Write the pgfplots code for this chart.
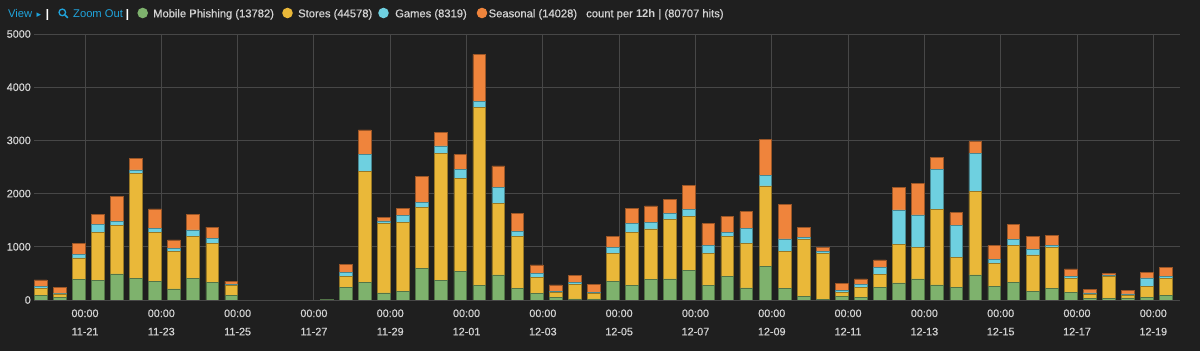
\documentclass[border=0pt]{standalone}
\usepackage{pgfplots}
\usepackage{pgfplotstable}
\pgfplotsset{compat=1.18}
\usepackage{fontspec}
\setmainfont{Liberation Sans}
\newfontfamily\heavy{Liberation Sans}[FakeBold=0.6]
\newfontfamily\dejavu{DejaVu Sans}
\definecolor{bg}{HTML}{1F1F1F}
\definecolor{gridc}{HTML}{474747}
\definecolor{tickc}{HTML}{D2D2D2}
\definecolor{cgreen}{HTML}{7EB26D}
\definecolor{cyellow}{HTML}{EAB839}
\definecolor{ccyan}{HTML}{6ED0E0}
\definecolor{corange}{HTML}{EF843C}
\definecolor{kblue}{HTML}{1FA4DC}

\pgfplotstableread{
x g s c o
-1.1667 88 125 50 113
-0.6667 56 57 12 113
-0.1667 388 402 62 219
0.3333 363 915 144 182
0.8333 489 908 76 476
1.3333 407 1974 63 213
1.8333 351 915 75 370
2.3333 207 702 68 151
2.8333 401 802 113 288
3.3333 332 727 94 219
3.8333 81 188 25 63
6.3333 5 5 0 8
6.8333 238 213 75 138
7.3333 338 2081 325 452
7.8333 132 1315 38 75
8.3333 169 1291 125 132
8.8333 595 1141 94 495
9.3333 370 2381 144 251
9.8333 539 1742 175 276
10.3333 269 3353 106 890
10.8333 470 1353 301 395
11.3333 213 984 94 332
11.8333 119 307 75 157
12.3333 44 94 25 119
12.8333 19 269 44 125
13.3333 19 106 13 150
13.8333 357 520 107 213
14.3333 269 997 169 288
14.8333 382 953 125 307
15.3333 395 1115 119 263
15.8333 558 1009 131 451
16.3333 276 601 151 407
16.8333 445 752 75 295
17.3333 226 839 282 314
17.8333 633 1510 201 670
18.3333 213 702 232 651
18.8333 75 1059 38 194
19.3333 13 864 32 81
19.8333 63 75 37 138
20.3333 56 188 44 107
20.8333 238 244 138 132
21.3333 320 720 652 426
21.8333 395 601 602 601
22.3333 282 1416 752 232
22.8333 238 558 608 238
23.3333 470 1573 708 225
23.8333 251 438 75 257
24.3333 338 690 106 282
24.8333 169 677 106 239
25.3333 219 777 32 181
25.8333 144 257 50 132
26.3333 31 76 25 62
26.8333 31 408 25 37
27.3333 38 43 32 62
27.8333 56 195 163 106
28.3333 88 319 44 157
}\data

\begin{document}
\begin{tikzpicture}
\fill[bg] (0,0) rectangle (1200pt,351pt);
\begin{axis}[
  at={(34pt,51pt)}, anchor=south west,
  scale only axis, width=1146pt, height=266pt,
  xmin=-1.337, xmax=28.70, ymin=0, ymax=5000,
  ybar stacked, bar width=12.7pt,
  axis line style={draw=none},
  major tick length=0pt,
  grid=major,
  major grid style={draw=gridc, line width=0.9pt},
  xtick={0,2,...,28},
  xticklabels={{00:00\\11-21},{00:00\\11-23},{00:00\\11-25},{00:00\\11-27},{00:00\\11-29},{00:00\\12-01},{00:00\\12-03},{00:00\\12-05},{00:00\\12-07},{00:00\\12-09},{00:00\\12-11},{00:00\\12-13},{00:00\\12-15},{00:00\\12-17},{00:00\\12-19}},
  xticklabel style={align=center, anchor=north, inner sep=0pt, yshift=-9.3pt, font=\heavy\fontsize{10.8}{18.3}\selectfont, text=tickc},
  ytick={0,1000,...,5000},
  yticklabel style={anchor=east, inner sep=0pt, xshift=-3pt, font=\heavy\fontsize{10.8}{13}\selectfont, text=tickc},
  /pgf/number format/assume math mode=true,
  /pgf/number format/1000 sep={},
  scaled y ticks=false,
]
\addplot[fill=cgreen, draw=cgreen!65!black, line width=0.6pt] table[x=x,y=g] {\data};
\addplot[fill=cyellow, draw=cyellow!65!black, line width=0.6pt] table[x=x,y=s] {\data};
\addplot[fill=ccyan, draw=ccyan!65!black, line width=0.6pt] table[x=x,y=c] {\data};
\addplot[fill=corange, draw=corange!65!black, line width=0.6pt] table[x=x,y=o] {\data};
\end{axis}
% header / legend
\begin{scope}[every node/.style={anchor=base west, inner sep=0pt, font=\heavy\fontsize{11.2}{13}\selectfont, text=tickc}]
\node[text=kblue, font=\fontsize{11.2}{13}\selectfont] at (8pt,333.7pt) {View};
\node[text=kblue] at (36.5pt,333.7pt) {\dejavu\fontsize{9}{11}\selectfont ▸};
\node[text=white] at (45.5pt,333.7pt) {\textbf{|}};
\draw[kblue, line width=1.3pt] (62.3pt,338.6pt) circle (3.3pt);
\draw[kblue, line width=1.6pt] (64.8pt,336.1pt) -- (67.8pt,333.1pt);
\node[text=kblue, font=\fontsize{11.2}{13}\selectfont] at (73pt,333.7pt) {Zoom Out};
\node[text=white] at (125.5pt,333.7pt) {\textbf{|}};
\fill[cgreen] (142.7pt,338pt) circle (5.3pt);
\node at (153pt,333.7pt) {Mobile Phishing (13782)};
\fill[cyellow] (287.5pt,338pt) circle (5.3pt);
\node at (298pt,333.7pt) {Stores (44578)};
\fill[ccyan] (383.5pt,338pt) circle (5.3pt);
\node at (395pt,333.7pt) {Games (8319)};
\fill[corange] (482pt,338pt) circle (5.3pt);
\node at (488.5pt,333.7pt) {Seasonal (14028)};
\node at (586pt,333.7pt) {count per {\fontspec{Liberation Sans Bold}12h} | (80707 hits)};
\end{scope}
\pgfresetboundingbox
\path[use as bounding box] (0,0) rectangle (1200pt,351pt);
\end{tikzpicture}
\end{document}
